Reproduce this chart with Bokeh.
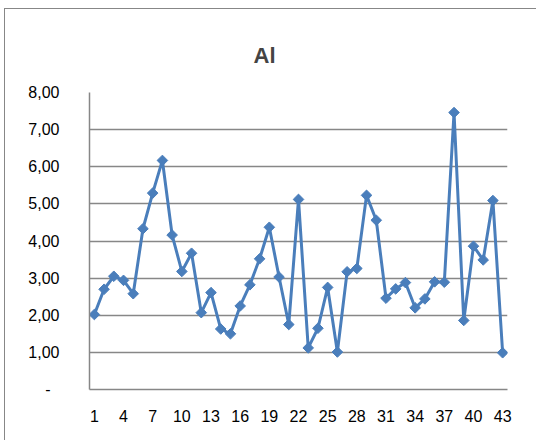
import math
from bokeh.plotting import figure
from bokeh.models import FixedTicker, Range1d, ColumnDataSource
from bokeh.embed import file_html
from bokeh.resources import INLINE

title_text = "Al"
samples = list(range(1, 44))
al_values = [2.02, 2.70, 3.05, 2.94, 2.58, 4.33, 5.29, 6.17, 4.16, 3.18,
             3.67, 2.07, 2.61, 1.63, 1.50, 2.25, 2.82, 3.52, 4.37, 3.03,
             1.75, 5.12, 1.12, 1.65, 2.75, 1.01, 3.17, 3.26, 5.23, 4.56,
             2.46, 2.71, 2.88, 2.20, 2.44, 2.90, 2.89, 7.46, 1.86, 3.86,
             3.49, 5.09, 0.99]
y_ticks = [0, 1, 2, 3, 4, 5, 6, 7, 8]
x_ticks = list(range(1, 44, 3))

GRID = "#878787"
BLUE = "#4A7EBB"
FONT = "Liberation Sans"

p = figure(width=532, height=432, output_backend="svg", toolbar_location=None,
           x_range=Range1d(0.5, 43.5), y_range=Range1d(0, 8),
           min_border_left=84, min_border_right=30, min_border_top=83, min_border_bottom=52)
p.styles = {"margin-left": "4px", "margin-top": "8px",
            "border-left": "1px solid " + GRID, "border-top": "1px solid " + GRID}

p.title.text = title_text
p.title.text_font = FONT
p.title.text_font_size = "22px"
p.title.text_font_style = "bold"
p.title.align = "left"
p.title.offset = 164
p.title.standoff = 49

p.outline_line_color = None
p.background_fill_color = "white"
p.border_fill_color = "white"

p.xgrid.visible = False
p.ygrid.ticker = FixedTicker(ticks=y_ticks)
p.ygrid.grid_line_color = GRID
p.ygrid.grid_line_width = 1.5

p.yaxis.ticker = FixedTicker(ticks=y_ticks)
p.yaxis.major_label_overrides = {t: ("-\u00a0\u00a0" if t == 0 else f"{t:.2f}".replace(".", ",")) for t in y_ticks}
p.xaxis.ticker = FixedTicker(ticks=x_ticks)
p.xaxis.major_label_overrides = {t: str(t) for t in x_ticks}

for ax in (p.xaxis[0], p.yaxis[0]):
    ax.major_tick_line_color = None
    ax.minor_tick_line_color = None
    ax.axis_line_color = GRID
    ax.axis_line_width = 1.5
    ax.major_label_text_font = FONT
    ax.major_label_text_font_size = "16px"
    ax.major_label_text_color = "black"
p.yaxis.major_label_standoff = 24
p.xaxis.major_label_standoff = 14

src = ColumnDataSource(dict(x=samples, y=al_values))
p.line("x", "y", source=src, line_color=BLUE, line_width=3)
p.scatter("x", "y", source=src, marker="square", angle=math.pi / 4, size=7.5,
          fill_color=BLUE, line_color=BLUE)

open("out.html", "w").write(file_html(p, INLINE))
